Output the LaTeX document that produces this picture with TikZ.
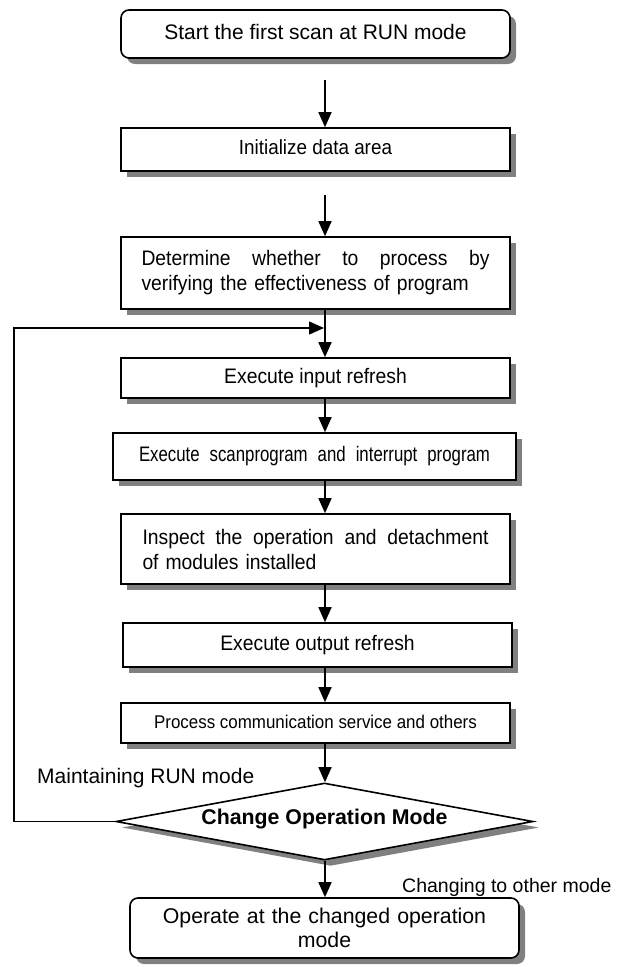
\documentclass[tikz,border=0pt]{standalone}
\usepackage{fontspec}
\setmainfont{Liberation Sans}
\newfontfamily\cnd[FakeStretch=0.92]{Liberation Sans}
\newfontfamily\cndx[FakeStretch=0.80]{Liberation Sans}
\usetikzlibrary{shapes.geometric,shadows,arrows.meta}
\begin{document}
\begin{tikzpicture}[x=1pt,y=-1pt,
  shd/.style={drop shadow={shadow xshift=6pt,shadow yshift=-6pt,fill=black!50,opacity=1}},
  box/.style={draw, line width=1.6pt, fill=white, inner sep=0pt, minimum width=389pt, shd},
  rbox/.style={box, rounded corners=8pt},
  one/.style={text height=15pt, text depth=5pt},
  arr/.style={line width=1.6pt, -{Triangle[length=15pt,width=13pt]}},
  loopl/.style={line width=1.3pt, -{Triangle[length=15pt,width=13pt]}},
  ]
\useasboundingbox (0,0) rectangle (619,967);

\node[rbox, one, minimum height=48pt, font=\fontsize{21}{24}\selectfont] (b1) at (315.5,34) {Start the first scan at RUN mode};
\node[box, one, minimum height=43pt, font=\cnd\fontsize{20.5}{24}\selectfont] (b2) at (315.5,149.5) {Initialize data area};
\node[box, minimum height=72pt, text width=348pt, align=left, font=\cnd\fontsize{21}{25}\selectfont] (b3) at (315.5,273) {\makebox[348pt][s]{Determine\hfill whether\hfill to\hfill process\hfill by}\\ verifying the effectiveness of program};
\node[box, one, minimum height=40pt, font=\cnd\fontsize{21}{24}\selectfont] (b4) at (315.5,378) {Execute input refresh};
\node[box, one, minimum width=403pt, minimum height=47pt, font=\cndx\fontsize{21}{24}\selectfont] (b5) at (314.5,456.5) {\makebox[351pt][s]{Execute scanprogram and interrupt program}};
\node[box, minimum height=70pt, text width=346pt, align=left, font=\cnd\fontsize{21}{25}\selectfont] (b6) at (315.5,549) {\makebox[346pt][s]{Inspect\hfill the\hfill operation\hfill and\hfill detachment}\\ of modules installed};
\node[box, one, minimum height=44pt, font=\cnd\fontsize{21}{24}\selectfont] (b7) at (317.5,645) {Execute output refresh};
\node[box, one, minimum height=40pt, font=\cnd\fontsize{18.4}{22}\selectfont] (b8) at (315.5,723) {Process communication service and others};
\node[diamond, draw, line width=1.6pt, fill=white, aspect=5.4, inner sep=0pt, minimum width=417pt, minimum height=77pt, shd, text height=15pt, text depth=9pt, font=\bfseries\fontsize{21.3}{24}\selectfont] (dec) at (324.5,821.5) {Change Operation Mode};
\node[rbox, minimum height=60pt, text width=340pt, align=center, font=\fontsize{21.3}{24}\selectfont] (b9) at (324.5,928) {Operate at the changed operation\\ mode};

\node[anchor=base west, inner sep=0pt, font=\fontsize{21}{24}\selectfont] (lm) at (37,783) {Maintaining RUN mode};
\node[anchor=base west, inner sep=0pt, font=\fontsize{19.5}{23}\selectfont] (lc) at (402,892) {Changing to other mode};

\coordinate (ax) at (325,0);
\coordinate (s1) at (325,80);
\coordinate (s2) at (325,195);
\coordinate (lx) at (14,328);
\coordinate (jn) at (324,328);

\draw[arr] (s1) -- (b2.north -| ax);
\draw[arr] (s2) -- (b3.north -| ax);
\draw[arr] (b3.south -| ax) -- (b4.north -| ax);
\draw[arr] (b4.south -| ax) -- (b5.north -| ax);
\draw[arr] (b5.south -| ax) -- (b6.north -| ax);
\draw[arr] (b6.south -| ax) -- (b7.north -| ax);
\draw[arr] (b7.south -| ax) -- (b8.north -| ax);
\draw[arr] (b8.south -| ax) -- (dec.north -| ax);
\draw[arr] (dec.south -| ax) -- (b9.north -| ax);
\draw[loopl] (dec.west) -| (lx) -- (jn);
\end{tikzpicture}
\end{document}
